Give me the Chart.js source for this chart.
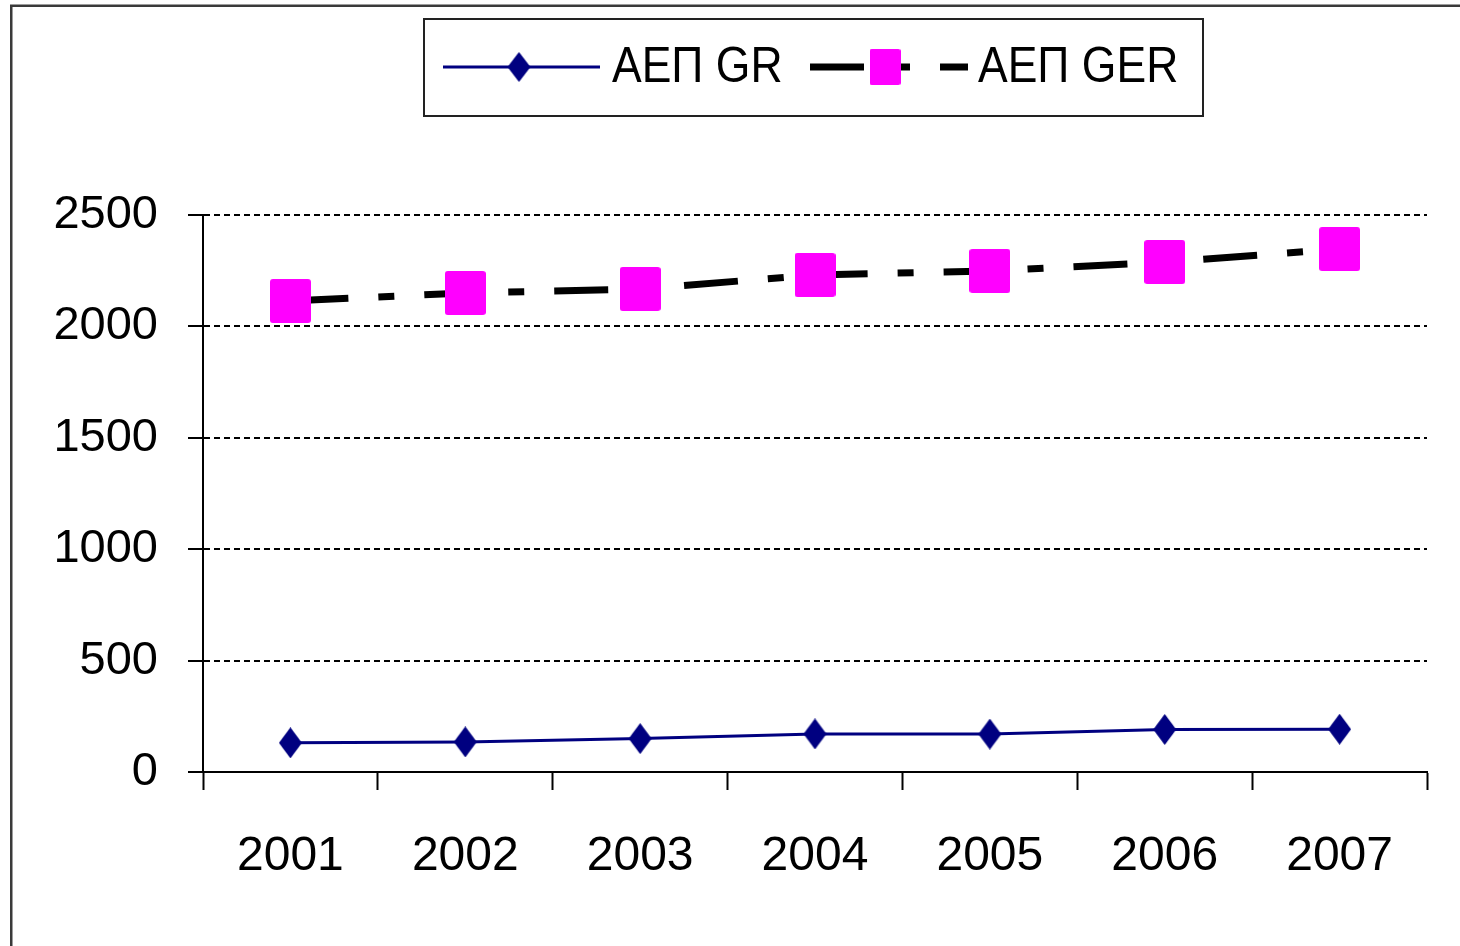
<!DOCTYPE html>
<html>
<head>
<meta charset="utf-8">
<script src="https://cdn.jsdelivr.net/npm/chart.js@4/dist/chart.umd.min.js"></script>
<style>
html,body{margin:0;padding:0;background:#fff;}
canvas{display:block;}
</style>
</head>
<body>
<canvas id="c" width="1460" height="946"></canvas>
<script>
// ---- data ----
const years = ['2001', '2002', '2003', '2004', '2005', '2006', '2007'];
const gdpGR = [131, 135, 150, 171, 170, 191, 192];
const gdpGER = [2114, 2150, 2168, 2231, 2249, 2289, 2347];
const yTickValues = [0, 500, 1000, 1500, 2000, 2500];
const seriesLabels = ['ΑΕΠ GR', 'ΑΕΠ GER'];

const FONT = "'Liberation Sans', Arial, sans-serif";
const NAVY = '#000080';
const MAGENTA = '#FF00FF';

function makeDiamond(w, h, color) {
  const c = document.createElement('canvas');
  c.width = w; c.height = h;
  const g = c.getContext('2d');
  g.fillStyle = color;
  g.beginPath();
  g.moveTo(w / 2, 0); g.lineTo(w, h / 2); g.lineTo(w / 2, h); g.lineTo(0, h / 2);
  g.closePath(); g.fill();
  return c;
}
function makeSquare(w, h, color, r) {
  const c = document.createElement('canvas');
  c.width = w; c.height = h;
  const g = c.getContext('2d');
  g.fillStyle = color;
  g.beginPath();
  g.moveTo(r, 0); g.lineTo(w - r, 0); g.arcTo(w, 0, w, r, r);
  g.lineTo(w, h - r); g.arcTo(w, h, w - r, h, r);
  g.lineTo(r, h); g.arcTo(0, h, 0, h - r, r);
  g.lineTo(0, r); g.arcTo(0, 0, r, 0, r);
  g.closePath(); g.fill();
  return c;
}

const grMarker = makeDiamond(23, 31, NAVY);
const gerMarker = makeSquare(41, 44, MAGENTA, 3);
const grLegendMarker = makeDiamond(23, 30, NAVY);
const gerLegendMarker = makeSquare(31, 36, MAGENTA, 2);

const frameLegendPlugin = {
  id: 'frameLegend',
  afterDraw(chart) {
    const ctx = chart.ctx;
    const ds = chart.data.datasets;
    ctx.save();
    // outer frame (left and top edges visible)
    ctx.strokeStyle = '#3a3a3a';
    ctx.lineWidth = 2.5;
    ctx.beginPath();
    ctx.moveTo(11.25, 946);
    ctx.lineTo(11.25, 5.75);
    ctx.lineTo(1460, 5.75);
    ctx.stroke();

    // legend box
    ctx.strokeStyle = '#222';
    ctx.lineWidth = 2;
    ctx.strokeRect(424, 19, 779, 97);

    const cy = 67;
    // GR sample
    ctx.strokeStyle = ds[0].borderColor;
    ctx.lineWidth = ds[0].borderWidth;
    ctx.setLineDash([]);
    ctx.beginPath(); ctx.moveTo(443, cy); ctx.lineTo(600, cy); ctx.stroke();
    ctx.drawImage(grLegendMarker, 519 - grLegendMarker.width / 2, cy - grLegendMarker.height / 2);

    // GER sample
    ctx.strokeStyle = ds[1].borderColor;
    ctx.lineWidth = ds[1].borderWidth;
    ctx.setLineDash(ds[1].borderDash);
    ctx.lineDashOffset = 0;
    ctx.beginPath(); ctx.moveTo(810, cy); ctx.lineTo(968, cy); ctx.stroke();
    ctx.setLineDash([]);
    ctx.drawImage(gerLegendMarker, 885 - gerLegendMarker.width / 2, cy - gerLegendMarker.height / 2);

    // texts
    ctx.fillStyle = '#000';
    ctx.font = '50px ' + FONT;
    ctx.textBaseline = 'alphabetic';
    ctx.textAlign = 'left';
    [[ds[0].label, 612], [ds[1].label, 978]].forEach(([t, x]) => {
      ctx.save();
      ctx.translate(x, 82);
      ctx.scale(0.89, 1);
      ctx.fillText(t, 0, 0);
      ctx.restore();
    });
    ctx.restore();
  }
};

new Chart(document.getElementById('c'), {
  type: 'line',
  data: {
    labels: years,
    datasets: [
      {
        label: seriesLabels[0],
        data: gdpGR,
        borderColor: NAVY,
        backgroundColor: NAVY,
        borderWidth: 3,
        pointStyle: grMarker,
        pointRadius: 15,
        tension: 0,
        fill: false
      },
      {
        label: seriesLabels[1],
        data: gdpGER,
        borderColor: '#000',
        backgroundColor: MAGENTA,
        borderWidth: 7,
        borderDash: [54, 30, 16, 30],
        borderDashOffset: -4,
        borderCapStyle: 'butt',
        pointStyle: gerMarker,
        pointRadius: 22,
        tension: 0,
        fill: false
      }
    ]
  },
  options: {
    responsive: false,
    animation: false,
    events: [],
    layout: { padding: { top: 215, right: 33, left: 0, bottom: 0 } },
    plugins: {
      legend: { display: false },
      tooltip: { enabled: false },
      title: { display: false }
    },
    scales: {
      x: {
        offset: true,
        grid: {
          display: true,
          offset: true,
          drawOnChartArea: false,
          drawTicks: true,
          tickLength: 18,
          tickColor: '#000',
          tickWidth: 2
        },
        border: { display: true, color: '#000', width: 2 },
        ticks: {
          color: '#000',
          font: { family: FONT, size: 48 },
          padding: 38,
          maxRotation: 0,
          autoSkip: false
        },
        afterFit(scale) { scale.height = 946 - 772; }
      },
      y: {
        min: 0,
        max: 2500,
        afterBuildTicks(scale) { scale.ticks = yTickValues.map(v => ({ value: v })); },
        grid: {
          display: true,
          color: '#000',
          lineWidth: 2,
          drawTicks: true,
          tickLength: 15,
          tickColor: '#000',
          tickWidth: 2,
          tickBorderDash: []
        },
        border: { display: true, color: '#000', width: 2, dash: [6, 4] },
        ticks: {
          color: '#000',
          font: { family: FONT, size: 47 },
          padding: 30,
          callback: (v) => String(v)
        },
        afterFit(scale) { scale.width = 203; }
      }
    }
  },
  plugins: [frameLegendPlugin]
});
</script>
</body>
</html>
